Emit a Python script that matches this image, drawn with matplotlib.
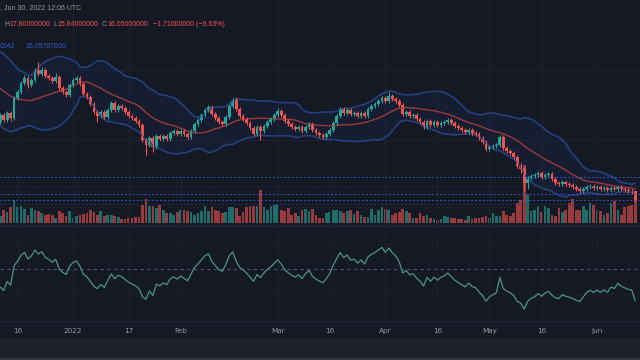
import matplotlib
matplotlib.use('Agg')
import matplotlib.pyplot as plt
import matplotlib.dates as mdates
import numpy as np
import pandas as pd

# daily candles, first visible day 2021-12-11, last 2022-06-12
first_day = '2021-12-11'
first_open = 31.65
closes = [
    33.05, 32.05, 33.45, 32.45, 36.45, 37.65, 39.45, 40.45, 39.05, 40.05,
    42.05, 41.25, 42.05, 40.85, 40.45, 39.85, 40.65, 38.45, 37.65, 37.05,
    39.05, 40.05, 40.45, 39.25, 37.25, 36.65, 35.25, 33.65, 32.85, 33.65,
    32.65, 34.05, 35.45, 34.05, 34.85, 34.45, 33.65, 32.85, 32.45, 31.85,
    31.05, 28.05, 27.05, 28.45, 26.65, 28.85, 28.25, 28.85, 28.25, 29.45,
    29.85, 29.25, 29.85, 29.25, 28.65, 29.85, 31.25, 32.05, 33.05, 34.05,
    34.65, 33.25, 32.45, 31.65, 31.25, 32.65, 34.85, 36.05, 34.25, 32.85,
    32.25, 31.45, 30.45, 29.25, 30.65, 29.85, 30.85, 31.65, 32.25, 33.05,
    33.85, 33.05, 31.85, 31.25, 30.65, 30.25, 30.65, 29.85, 30.65, 31.25,
    30.05, 29.45, 29.05, 28.65, 29.25, 30.05, 31.45, 32.85, 34.25, 33.45,
    34.05, 33.25, 33.45, 32.85, 33.45, 32.85, 34.25, 34.85, 35.25, 35.85,
    36.45, 35.85, 36.85, 36.25, 35.85, 35.05, 33.25, 33.65, 32.85, 33.05,
    32.25, 31.65, 30.65, 31.85, 31.05, 31.65, 31.05, 31.45, 31.65, 32.05,
    31.45, 30.85, 30.45, 30.05, 29.65, 30.05, 29.45, 29.25, 28.45, 27.65,
    26.25, 26.65, 26.85, 27.05, 28.65, 26.45, 25.85, 25.45, 24.65, 22.85,
    22.25, 19.45, 20.45, 20.85, 21.05, 21.45, 20.65, 21.05, 21.25, 20.25,
    19.45, 19.25, 19.65, 19.25, 19.05, 18.65, 18.25, 17.85, 18.25, 18.65,
    18.85, 18.45, 18.65, 18.25, 18.45, 18.05, 18.45, 18.25, 18.65, 18.25,
    18.05, 17.85, 17.76, 16.05,
]
highs = [
    33.45, 33.45, 33.85, 33.85, 36.85, 38.25, 39.85, 41.05, 40.85, 40.45,
    42.45, 43.65, 42.65, 42.45, 41.25, 40.85, 41.45, 41.05, 38.85, 38.05,
    39.45, 40.45, 40.85, 40.85, 39.65, 37.65, 37.05, 35.65, 34.05, 34.05,
    34.05, 34.45, 35.85, 35.85, 35.25, 35.25, 34.85, 34.05, 33.25, 32.85,
    32.25, 31.45, 28.45, 28.85, 28.85, 29.25, 29.25, 29.25, 29.25, 29.85,
    30.25, 30.25, 30.25, 30.25, 29.65, 30.25, 31.65, 32.45, 33.45, 34.45,
    35.05, 35.05, 33.65, 32.85, 32.05, 33.05, 35.25, 36.45, 36.65, 34.65,
    33.25, 32.65, 31.85, 30.85, 31.05, 31.05, 31.25, 32.05, 32.65, 33.45,
    34.45, 34.25, 33.45, 32.25, 31.65, 31.05, 31.05, 31.05, 31.05, 31.65,
    31.65, 30.45, 29.85, 29.45, 29.65, 30.45, 31.85, 33.25, 34.65, 34.65,
    34.45, 34.45, 33.85, 33.85, 33.85, 33.85, 34.65, 35.25, 35.65, 36.25,
    36.85, 36.85, 37.65, 37.25, 36.65, 36.25, 35.45, 34.05, 34.05, 33.45,
    33.45, 32.65, 32.05, 32.25, 32.25, 32.05, 32.05, 31.85, 32.05, 32.45,
    32.45, 31.85, 31.25, 30.85, 30.45, 30.45, 30.45, 29.85, 29.65, 28.85,
    28.05, 27.05, 27.25, 27.45, 29.05, 29.05, 26.85, 26.25, 25.85, 25.05,
    23.45, 22.65, 20.85, 21.25, 21.45, 21.85, 21.85, 21.45, 21.65, 21.65,
    20.65, 19.85, 20.05, 20.05, 19.65, 19.45, 19.05, 18.65, 18.65, 19.05,
    19.25, 19.25, 19.05, 19.05, 18.85, 18.85, 18.85, 18.85, 19.05, 19.05,
    18.65, 18.45, 18.25, 17.80,
]
lows = [
    31.25, 31.65, 31.65, 31.85, 32.05, 36.05, 37.25, 39.05, 38.45, 38.65,
    39.65, 40.85, 40.85, 40.45, 40.05, 39.45, 39.45, 38.05, 37.25, 36.65,
    36.65, 38.65, 39.65, 38.85, 36.85, 36.25, 34.85, 33.25, 31.65, 32.45,
    32.25, 32.25, 33.65, 33.65, 33.65, 34.05, 33.25, 32.45, 32.05, 31.45,
    30.65, 27.65, 25.05, 26.65, 25.65, 26.25, 27.85, 27.85, 27.85, 27.85,
    29.05, 28.85, 28.85, 28.85, 28.25, 28.25, 29.45, 30.85, 31.65, 32.65,
    33.65, 32.85, 32.05, 31.25, 30.85, 30.85, 32.25, 34.45, 33.85, 32.45,
    31.85, 31.05, 30.05, 28.85, 28.85, 28.05, 29.45, 30.45, 31.25, 31.85,
    32.65, 32.65, 31.45, 30.85, 30.25, 29.85, 29.85, 29.45, 29.45, 30.25,
    29.65, 29.05, 28.65, 28.25, 28.25, 28.85, 29.65, 31.05, 32.45, 33.05,
    33.05, 32.85, 32.85, 32.45, 32.45, 32.45, 32.45, 33.85, 34.45, 34.85,
    35.45, 35.45, 35.45, 35.85, 35.45, 34.65, 32.85, 32.85, 32.45, 32.45,
    31.85, 31.25, 30.25, 30.25, 30.65, 30.65, 30.65, 30.65, 31.05, 31.25,
    31.05, 30.45, 30.05, 29.65, 29.25, 29.25, 29.05, 28.85, 28.05, 27.25,
    25.85, 25.85, 26.25, 26.45, 26.65, 26.05, 25.45, 25.05, 24.25, 22.45,
    21.45, 17.85, 18.25, 20.05, 20.45, 20.65, 20.25, 20.25, 20.65, 19.85,
    19.05, 18.85, 18.85, 18.85, 18.65, 18.25, 17.85, 17.45, 17.45, 17.85,
    18.25, 18.05, 18.05, 17.85, 17.85, 17.65, 17.65, 17.85, 17.85, 17.85,
    17.65, 17.45, 17.35, 15.84,
]
volume = [
    7, 13, 11, 16, 23, 16, 17, 14, 8, 15,
    13, 12, 10, 8, 9, 8, 5, 12, 10, 7,
    12, 5, 7, 8, 9, 10, 13, 11, 8,
    12, 7, 8, 8, 7, 6, 4, 4, 5, 5,
    6, 6, 18, 24, 17, 17, 15, 18, 13, 10,
    10, 8, 11, 13, 13, 12, 11, 8, 10,
    12, 17, 12, 16, 13, 12, 10, 11, 16,
    16, 15, 7, 11, 16, 17, 17, 17, 33, 16,
    13, 17, 18, 19, 13, 12, 15, 8, 10, 7,
    13, 14, 12, 14, 8, 5,
    5, 10, 11, 13, 13, 12, 10, 12, 13,
    9, 12, 8, 6, 6, 14, 8, 13, 16, 14,
    13, 8, 10, 11, 14, 12, 10, 5, 5,
    10, 7, 8, 5, 4, 3, 4, 7, 6, 5,
    5, 4, 4, 3, 7, 4, 5, 5, 6,
    7, 5, 10, 7, 7, 12, 8, 7, 10, 20,
    23, 58,
    28, 12, 13, 17, 11, 17, 15, 8, 7, 15,
    11, 13, 20, 24, 13, 13, 17, 13, 20, 18,
    13, 12, 8, 10, 20, 22, 13, 8, 16, 17,
    18, 27,
]
# closes before the visible window (needed for the band and RSI warm-up)
earlier_closes = [42.8, 43.4, 42.5, 43.1, 41.9, 42.4, 41.2, 41.8, 39.9, 36.6,
                  37.5, 37.0, 35.9, 36.5, 35.0, 35.6, 34.4, 33.5, 32.8]

tick_days = ['2021-12-16', '2022-01-01', '2022-01-17', '2022-02-01', '2022-03-01',
             '2022-03-16', '2022-04-01', '2022-04-16', '2022-05-01', '2022-05-16',
             '2022-06-01']
tick_labels = ['16', '2022', '17', 'Feb', 'Mar', '16', 'Apr', '16', 'May', '16', 'Jun']
price_lines = [20.65, 18.85, 17.25, 16.05, 15.25]

bg = '#151924'
up = '#26a69a'
down = '#ef5350'
W, H = 640, 360

dates = pd.date_range(first_day, periods=len(closes), freq='D')
x = mdates.date2num(dates)
closes_a = np.array(closes)
opens = np.r_[first_open, closes_a[:-1]]
rising = closes_a >= opens
colors = np.where(rising, up, down)

# bollinger bands (20, 2) and RSI 14 on the full history
allc = pd.Series(earlier_closes + closes)
basis = allc.rolling(20).mean()
dev = allc.rolling(20).std(ddof=0)
n0 = len(earlier_closes)
basis = basis.values[n0:]
upper = basis + 2 * dev.values[n0:]
lower = basis - 2 * dev.values[n0:]

delta = allc.diff()
gain = delta.clip(lower=0).ewm(alpha=1 / 14, adjust=False).mean()
loss = (-delta.clip(upper=0)).ewm(alpha=1 / 14, adjust=False).mean()
rsi = (100 - 100 / (1 + gain / loss)).values[n0:]

fig = plt.figure(figsize=(6.4, 3.6), dpi=100, facecolor=bg)

px_day = 3.47
xmin = x[0] - 0.2 / px_day
xmax = x[0] + (W - 0.2) / px_day

# price pane (y 0..225 px) with volume underneath
axv = fig.add_axes([0, 135 / H, 1, 225 / H])
ax = fig.add_axes([0, 135 / H, 1, 225 / H], sharex=axv)
axv.set_facecolor(bg)
ax.patch.set_visible(False)

axv.bar(x, volume, width=0.78, color=colors, alpha=0.6, linewidth=0)
axv.set_ylim(-2, 223)

for lvl in [42, 28]:
    ax.axhline(lvl, color='#1d2130', lw=0.7, zorder=0)
for d in tick_days:
    ax.axvline(mdates.date2num(pd.Timestamp(d)), color='#1d2130', lw=0.7, zorder=0)

ax.fill_between(x, lower, upper, color='#2962ff', alpha=0.055, linewidth=0)
ax.plot(x, upper, color='#25407e', lw=1.2)
ax.plot(x, lower, color='#25407e', lw=1.2)
ax.plot(x, basis, color='#9a3a3d', lw=1.0)

styles = [('#2f5bd0', 0.9), ('#2a3556', 0.7), ('#2f5bd0', 0.9), ('#2f5bd0', 0.9), ('#2a3556', 0.7)]
for lvl, (c, a) in zip(price_lines, styles):
    ax.axhline(lvl, color=c, alpha=a, lw=0.7, ls=(0, (2, 2)))

ax.vlines(x, lows, highs, colors=colors, lw=0.8)
body = np.abs(closes_a - opens)
body = np.maximum(body, 0.12)
ax.bar(x, body, bottom=np.minimum(opens, closes_a), width=0.8, color=colors, linewidth=0)
ax.set_ylim(56.05 - 225 / 5, 56.05)
ax.set_xlim(xmin, xmax)

for a in (ax, axv):
    a.axis('off')

# RSI pane (y 226..320 px)
axr = fig.add_axes([0, 40 / H, 1, 94 / H], facecolor=bg)
for d in tick_days:
    axr.axvline(mdates.date2num(pd.Timestamp(d)), color='#1d2130', lw=0.7, zorder=0)
axr.axhline(50, color='#4b4f86', lw=0.8, ls=(0, (3, 3)))
axr.axhline(70, color='#22263a', lw=0.7, ls=(0, (2, 2)))
axr.axhline(30, color='#22263a', lw=0.7, ls=(0, (2, 2)))
axr.plot(x, rsi, color='#4a9488', lw=0.9)
axr.set_ylim(50 - 51 / 1.25, 50 + 43 / 1.25)
axr.set_xlim(xmin, xmax)
axr.set_xticks(mdates.date2num(pd.to_datetime(tick_days)))
axr.set_xticklabels(tick_labels)
axr.tick_params(axis='x', length=0, pad=5.5, labelsize=5.2, colors='#9598a1')
axr.set_yticks([])
for s in axr.spines.values():
    s.set_visible(False)

# pane separators and bottom strip
fig.add_artist(plt.Line2D([0, 1], [1 - 225.5 / H] * 2, color='#232735', lw=1))
fig.add_artist(plt.Line2D([0, 1], [1 - 320.5 / H] * 2, color='#232735', lw=1))
fig.add_artist(plt.Rectangle((0, 0), 1, 21 / H, color='#1d212c', transform=fig.transFigure))
fig.add_artist(plt.Line2D([0, 1], [1 / H] * 2, color='#3a3e4a', lw=1.2))


def label(px, py, s, c, size=5):
    fig.text(px / W, 1 - py / H, s, color=c, fontsize=size, va='center', ha='left',
             family=['Liberation Sans', 'DejaVu Sans'])


label(0, 8, ', Jun 30, 2022 12:06 UTC', '#9598a1')
label(4, 25, 'H', '#9598a1')
label(9, 25, '17.80000000', down)
label(53, 25, 'L', '#9598a1')
label(57.5, 25, '15.84000000', down)
label(102, 25, 'C', '#9598a1')
label(107, 25, '16.05000000', down)
label(153, 25, '\u22121.71000000 (\u22129.63%)', down)
label(0, 46, '0642', '#3559c4')
label(25, 46, '16.05707030', '#3559c4')

fig.savefig('out.png', dpi=100, facecolor=bg)
